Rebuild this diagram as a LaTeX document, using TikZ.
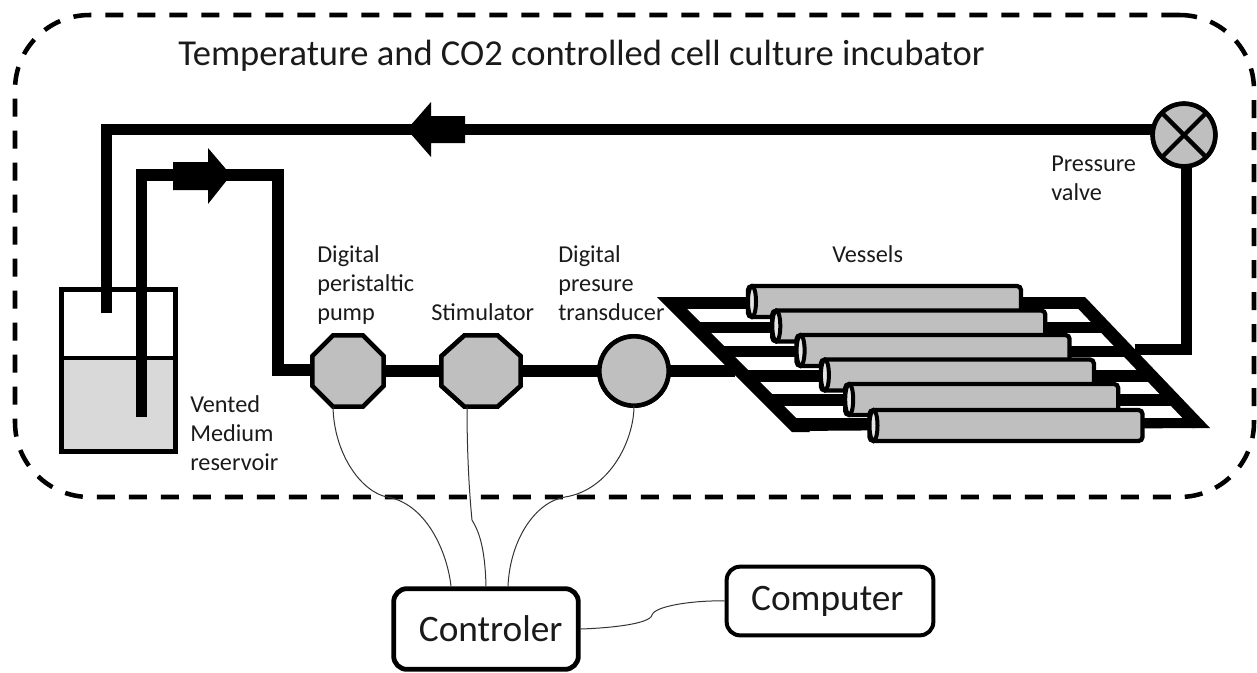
\documentclass[tikz,border=0pt]{standalone}
\usepackage{fontspec}
\setmainfont{Carlito}
\usetikzlibrary{shapes.geometric,calc}
\definecolor{devgray}{HTML}{BFBFBF}
\definecolor{water}{HTML}{D9D9D9}
\definecolor{inktext}{HTML}{1A1A1A}
\tikzset{
  tube/.style={line width=8.6pt,line join=miter,line cap=butt},
  device/.style={draw,fill=devgray,line width=3.4pt,inner sep=0pt,outer sep=0pt},
  octa/.style={device,regular polygon,regular polygon sides=8,minimum size=58pt},
  wire/.style={line width=.75pt,draw=black!80},
  lab/.style={font=\fontsize{18.2pt}{21.75pt}\selectfont,text=inktext,align=left,anchor=base west,inner sep=0pt},
  box/.style={draw,rounded corners=10pt,fill=white,inner sep=0pt,font=\fontsize{28pt}{32pt}\selectfont,text=inktext},
}
\newcommand{\cylinder}[2]{%
  \draw[line width=3.2pt,fill=devgray,rounded corners=3pt] (#1,#2) rectangle ++(273,-31);
  \draw[line width=3pt,fill=devgray!40!white] (#1+4,#2-15.5) ellipse [x radius=3pt,y radius=11.6pt];
}
\begin{document}
\begin{tikzpicture}[x=.75pt,y=-.75pt]
\useasboundingbox (0,0) rectangle (1257,672);
% incubator
\node[draw,dashed,dash pattern=on 13.5pt off 10.5pt,line width=3.4pt,rounded corners=56pt,minimum width=929.25pt,minimum height=361.5pt,inner sep=0pt,outer sep=0pt] (incubator) at (634.5,256) {};
\node[lab,font=\fontsize{27.4pt}{32pt}\selectfont] (title) at (178,65.5) {Temperature and CO2 controlled cell culture incubator};
% reservoir
\fill[water] (62,358) rectangle (175,451);
\node[draw,line width=3.2pt,minimum width=85.5pt,minimum height=121.5pt,inner sep=0pt] (reservoir) at (118.5,370.5) {};
\draw[line width=3.2pt] (reservoir.west |- 0,358) -- (reservoir.east |- 0,358);
% tube coordinates
\node[octa] (pump) at (348,371) {};
\node[octa,transform shape,xscale=1.11] (stim) at (481,371) {};
\node[device,circle,minimum size=52pt] (trans) at (634,371) {};
\node[device,circle,minimum size=47pt] (valve) at (1184,135) {};
\coordinate (outend) at (106.5,313);
\coordinate (inend) at (141.5,417);
\coordinate (frameL) at (735,371);
\coordinate (frameR) at (1135,349.5);
% tubes
\draw[tube] (outend) -- (106.5,129.5) -- (valve.west |- 0,129.5);
\draw[tube] (inend) -- (141.5,175) -- (278,175) -- (278,370) -- (pump.west |- 0,370);
\draw[tube] (pump) -- (stim);
\draw[tube] (stim) -- (trans);
\draw[tube] (trans) -- (frameL);
\draw[tube] (valve.south -| 1186.5,0) -- (1186.5,349.5) -- (frameR);
% devices on top of the tubes
\node[octa] at (pump) {};
\node[octa,transform shape,xscale=1.11] at (481,371) {};
\node[device,circle,minimum size=52pt] at (trans) {};
\node[device,circle,minimum size=47pt] at (valve) {};
\draw[line width=3.2pt] (valve.45) -- (valve.225) (valve.135) -- (valve.315);
% arrows
\fill (173,162) -- (208,162) -- (208,148) -- (231,175) -- (208,204) -- (208,190) -- (173,190) -- cycle;
\fill (465,116) -- (431,116) -- (431,102) -- (407,129.5) -- (431,157) -- (431,143) -- (465,143) -- cycle;
% frame
\fill (657,297) -- (675,297) -- (810,432) -- (792,432) -- cycle;
\fill (1067,297) -- (1085,297) -- (1210,428) -- (1192,428) -- cycle;
\foreach \i/\ya/\yb in {0/297/309,1/322/333,2/346/357,3/370/382,4/394/406} {
  \fill (671+\i*24.4,\ya) rectangle (1080+\i*23.3,\yb);
}
\fill (793,418) -- (1195,418) -- (1195,428) -- (793,431) -- cycle;
% vessels
\cylinder{748}{317}
\cylinder{772.3}{341.5}
\cylinder{796.6}{366}
\cylinder{820.9}{390.5}
\cylinder{845.2}{415}
\cylinder{869.5}{441}
% labels
\node[lab] (lpump) at (317,320) {Digital\\peristaltic\\pump};
\node[lab] (lstim) at (431,320) {Stimulator};
\node[lab] (ltrans) at (558,320) {Digital\\presure\\transducer};
\node[lab] (lvessels) at (832,262) {Vessels};
\node[lab] (lvalve) at (1051,200) {Pressure\\valve};
\node[lab] (lres) at (190,470) {Vented\\Medium\\reservoir};
% controller and computer
\node[box,line width=3.6pt,minimum width=138.5pt,minimum height=60.5pt] (controler) at (486,629) {\hspace*{7pt}Controler};
\node[box,line width=3pt,minimum width=155pt,minimum height=51.5pt] (computer) at (830,601) {\hspace*{-4pt}\raisebox{4pt}{Computer}};
% wires
\draw[wire] ($(pump.south)+(-15,0)$) .. controls (334,455) and (362,492) .. (387,497) .. controls (425,503) and (447,550) .. ($(controler.north)+(-35,0)$);
\draw[wire] ($(stim.south)+(-14,0)$) .. controls (467,450) and (469,490) .. (472,520) .. controls (478,530) and (485,545) .. (controler.north);
\draw[wire] (trans.south) .. controls (634,440) and (610,490) .. (565,497) .. controls (535,502) and (510,540) .. ($(controler.north)+(22,0)$);
\draw[wire] (controler.east) .. controls (610,628) and (650,624) .. (652,615) .. controls (655,605) and (700,600) .. (computer.west);
\end{tikzpicture}
\end{document}
